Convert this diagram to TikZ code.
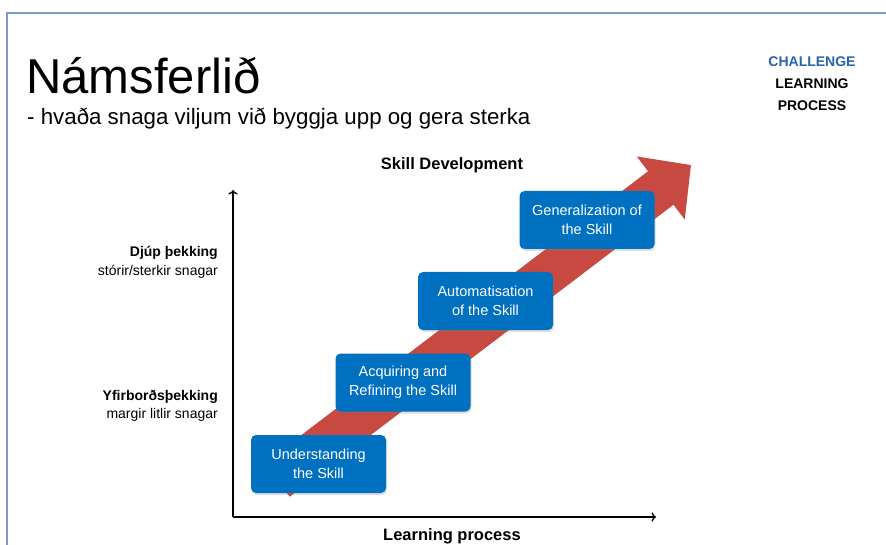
\documentclass[tikz,border=0pt]{standalone}
\usepackage{fontspec}
\setmainfont{Liberation Sans}
\usetikzlibrary{arrows.meta,shadows}
\definecolor{stepblue}{RGB}{0,112,192}
\definecolor{arrowred}{RGB}{200,72,66}
\definecolor{frameblue}{RGB}{120,155,205}
\definecolor{headblue}{RGB}{40,100,170}

\begin{document}
\begin{tikzpicture}[x=1pt,y=-1pt,every node/.style={inner sep=0pt},
    stepbox/.style={fill=stepblue,rounded corners=5pt,minimum width=135pt,
      minimum height=58pt,align=center,text=white,
      font=\fontsize{14.5}{19}\selectfont,
      drop shadow={opacity=0.25,shadow xshift=1pt,shadow yshift=-2pt}},
    levelhead/.style={anchor=base east,font=\fontsize{14}{15}\selectfont\bfseries},
    levelsub/.style={anchor=base east,font=\fontsize{14}{15}\selectfont}]
      \useasboundingbox (0,0) rectangle (886,545);
      \fill[white] (0,0) rectangle (886,545);
      \draw[frameblue,line width=2pt] (7,545) -- (7,13) -- (886,13);

      \node[anchor=base west,font=\fontsize{49}{49}\selectfont] (title) at (26,94) {Námsferlið};
      \node[anchor=base west,font=\fontsize{22.3}{24}\selectfont] (subtitle) at (27,125)
        {- hvaða snaga viljum við byggja upp og gera sterka};
      \node[font=\fontsize{14}{22}\selectfont\bfseries,align=center] (corner) at (812,84)
        {\textcolor{headblue}{CHALLENGE}\\LEARNING\\PROCESS};

      \coordinate (O) at (233,517);
      \coordinate (ytop) at (233,190);
      \coordinate (xend) at (656,517);
      \draw[->,line width=1.3pt] (O) -- (ytop);
      \draw[->,line width=1.3pt] (O) -- (xend);
      \node[font=\fontsize{16.5}{17}\selectfont\bfseries] (ylabel) at (452,165) {Skill Development};
      \node[font=\fontsize{16.5}{17}\selectfont\bfseries] (xlabel) at (452,536) {Learning process};

      \node[levelhead] (deep) at (218,257) {Djúp þekking};
      \node[levelsub] (deepsub) at (218,276) {stórir/sterkir snagar};
      \node[levelhead] (surface) at (218,400) {Yfirborðsþekking};
      \node[levelsub] (surfacesub) at (218,418) {margir litlir snagar};

      \coordinate (tail) at (277,480);
      \coordinate (tip) at (691,165);
      \draw[arrowred,line width=42pt,-{Triangle[length=38pt,width=77pt]}] (tail) -- (tip);

      \node[stepbox] (S1) at (318.5,464) {Understanding\\the Skill};
      \node[stepbox] (S2) at (403,382.5) {Acquiring and\\Refining the Skill};
      \node[stepbox] (S3) at (485.5,301) {Automatisation\\of the Skill};
      \node[stepbox] (S4) at (587,220) {Generalization of\\the Skill};
    \end{tikzpicture}
\end{document}
